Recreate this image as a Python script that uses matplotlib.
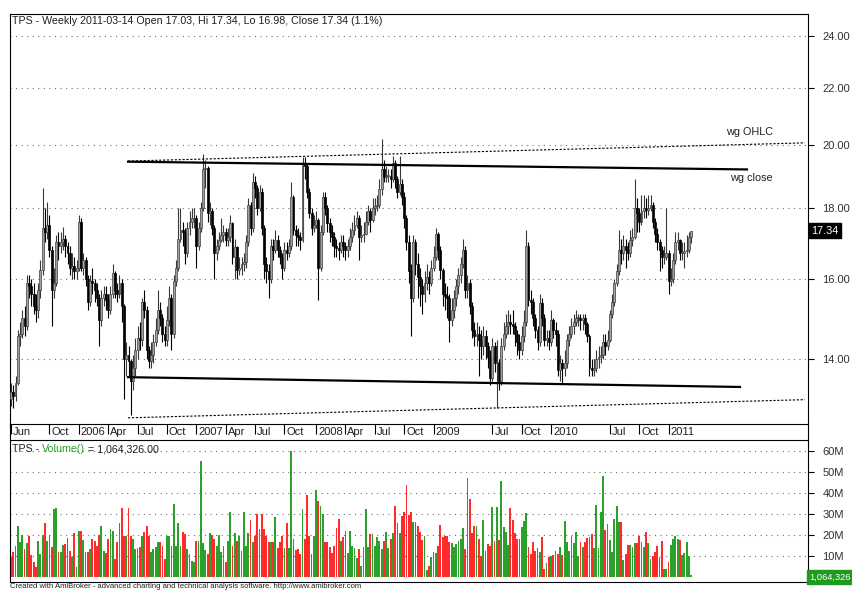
import numpy as np
import pandas as pd
import matplotlib
matplotlib.use('Agg')
import matplotlib.pyplot as plt
from matplotlib.lines import Line2D
from matplotlib.transforms import ScaledTranslation
from matplotlib.ticker import FixedLocator, NullLocator

plt.rcParams['font.family'] = ['Liberation Sans', 'DejaVu Sans']

# weekly bars, TPS, Jun 2005 - Mar 2011
dates = pd.date_range('2005-06-06', '2011-03-14', freq='W-MON')

close = [
    13.25, 13.15, 13.45, 14.55, 14.6, 15.0, 14.8, 15.9, 15.8, 15.6,
    15.3, 15.2, 15.7, 16.25, 17.4, 17.3, 17.5, 16.8, 15.7, 15.9,
    17.0, 16.9, 17.0, 17.1, 16.9, 16.7, 16.3, 16.35, 16.2, 16.3,
    17.6, 16.3, 16.5, 16.0, 15.4, 15.95, 15.9, 15.7, 15.5, 14.95,
    15.5, 15.6, 15.45, 15.2, 15.6, 16.15, 15.7, 15.6, 15.9, 15.3,
    14.0, 14.1, 13.95, 13.5, 13.8, 14.2, 14.5, 14.45, 15.4, 15.2,
    14.2, 13.95, 14.1, 14.4, 14.7, 15.2, 15.0, 14.6, 14.45, 14.95,
    15.5, 14.6, 15.95, 16.3, 17.1, 17.35, 17.3, 16.7, 17.4, 17.6,
    17.7, 17.7, 16.9, 17.4, 18.0, 19.2, 19.25, 17.85, 17.9, 17.4,
    16.7, 16.9, 17.07, 17.2, 17.3, 17.07, 17.15, 17.55, 16.6, 16.87,
    16.25, 16.3, 16.4, 16.45, 17.0, 18.1, 17.4, 18.8, 18.6, 18.0,
    18.5, 17.4, 16.4, 16.2, 16.0, 16.9, 16.8, 17.07, 16.8, 16.6,
    16.3, 16.8, 16.7, 16.9, 18.35, 17.35, 17.2, 17.15, 17.07, 19.4,
    19.3, 18.5, 17.85, 17.4, 17.5, 17.64, 16.3, 17.3, 18.35, 18.0,
    17.55, 17.3, 17.15, 16.9, 16.85, 16.8, 17.0, 16.9, 16.8, 16.9,
    17.15, 17.35, 17.5, 17.7, 17.15, 17.2, 17.25, 17.6, 17.9, 17.64,
    18.0, 18.05, 18.1, 18.57, 19.2, 18.97, 19.0, 19.0, 18.9, 19.4,
    18.9, 18.5, 18.75, 18.35, 17.7, 17.0, 16.2, 15.5, 17.0, 16.4,
    16.05, 15.8, 15.6, 15.9, 16.05, 15.9, 16.3, 16.6, 17.25, 16.8,
    16.25, 15.6, 15.55, 15.5, 14.94, 15.2, 15.5, 15.8, 16.1, 16.4,
    16.8, 15.7, 15.9, 15.3, 14.7, 14.55, 14.6, 14.45, 14.3, 14.55,
    14.3, 14.05, 13.55, 14.3, 13.9, 13.9, 13.5, 14.3, 14.6, 14.8,
    14.9, 14.85, 14.8, 14.6, 14.4, 14.22, 14.55, 14.9, 16.9, 15.44,
    15.4, 15.0, 14.7, 14.4, 15.37, 15.0, 14.45, 14.5, 14.4, 14.94,
    14.7, 14.6, 13.75, 13.9, 13.8, 13.9, 14.45, 14.6, 14.8, 14.9,
    15.0, 15.0, 14.95, 15.0, 14.85, 14.55, 13.8, 13.75, 13.8, 14.0,
    14.05, 14.1, 14.4, 14.3, 14.45, 15.1, 15.4, 15.9, 16.2, 16.8,
    16.7, 16.9, 16.8, 16.7, 17.07, 17.15, 18.0, 17.85, 17.6, 17.9,
    18.0, 17.95, 18.0, 18.1, 17.6, 17.25, 17.0, 16.8, 16.6, 16.6,
    16.7, 15.95, 16.0, 16.5, 17.0, 17.07, 16.7, 16.7, 16.75, 16.8,
    17.15, 17.34,
]

high = [
    13.45, 13.4, 13.6, 14.7, 14.9, 15.2, 15.3, 16.1, 16.1, 16.0,
    15.9, 15.6, 15.9, 16.5, 18.6, 18.0, 18.2, 17.8, 16.9, 16.3,
    17.2, 17.3, 17.3, 17.45, 17.2, 17.0, 16.9, 16.7, 16.6, 16.5,
    17.8, 17.7, 16.7, 16.6, 16.1, 16.1, 16.3, 16.0, 15.9, 15.6,
    15.7, 15.8, 15.8, 15.6, 15.8, 16.4, 16.2, 15.9, 16.1, 16.0,
    15.35, 14.4, 14.3, 14.0, 14.1, 14.5, 14.8, 14.9, 15.5, 15.7,
    15.3, 14.3, 14.4, 14.6, 15.0, 15.7, 15.4, 15.1, 14.8, 15.3,
    15.8, 15.6, 16.1, 16.5, 18.0, 18.0, 17.6, 17.4, 17.6, 17.9,
    18.0, 18.0, 17.8, 17.6, 18.2, 19.7, 19.5, 19.3, 18.2, 18.0,
    17.5, 17.1, 17.3, 17.7, 17.5, 17.4, 17.4, 17.8, 17.6, 17.1,
    16.9, 16.6, 16.6, 16.7, 17.2, 18.3, 18.2, 19.1, 19.0, 18.7,
    18.7, 18.6, 17.5, 16.6, 16.4, 17.1, 17.1, 17.35, 17.2, 16.9,
    16.7, 17.0, 17.0, 17.1, 18.8, 18.4, 17.5, 17.4, 17.3, 19.6,
    19.6, 19.4, 18.6, 18.0, 17.8, 17.9, 17.7, 17.5, 18.5, 18.5,
    18.1, 17.7, 17.5, 17.3, 17.1, 17.0, 17.2, 17.2, 17.0, 17.1,
    17.4, 17.6, 17.8, 17.9, 17.8, 17.5, 17.6, 17.9, 18.1, 18.0,
    18.3, 18.3, 18.4, 18.9, 20.2, 19.5, 19.3, 19.2, 19.2, 19.65,
    19.5, 19.0, 19.65, 18.9, 18.5, 17.8, 17.2, 16.4, 17.2, 17.1,
    16.7, 16.3, 16.0, 16.2, 16.4, 16.2, 16.5, 16.9, 17.4, 17.3,
    16.9, 16.3, 15.9, 15.8, 15.6, 15.5, 15.7, 16.0, 16.3, 16.6,
    17.1, 16.9, 16.1, 16.0, 15.4, 14.9, 14.9, 14.8, 14.7, 14.8,
    14.7, 14.4, 14.2, 14.5, 14.4, 14.45, 14.0, 14.5, 14.9, 15.1,
    15.2, 15.1, 15.2, 14.9, 14.7, 14.6, 14.8, 15.2, 17.35, 17.0,
    15.7, 15.5, 15.1, 14.8, 15.6, 15.5, 15.1, 14.7, 14.7, 15.2,
    15.0, 14.9, 14.7, 14.1, 14.0, 14.2, 14.6, 14.8, 15.0, 15.1,
    15.2, 15.1, 15.1, 15.1, 15.1, 14.9, 14.6, 14.0, 14.0, 14.2,
    14.3, 14.3, 14.6, 14.6, 14.7, 15.2, 15.6, 16.0, 16.4, 17.35,
    17.1, 17.2, 17.1, 17.0, 17.35, 17.4, 18.9, 18.3, 18.0, 18.4,
    18.4, 18.3, 18.4, 18.4, 18.2, 17.7, 17.4, 17.1, 16.9, 16.9,
    18.0, 16.8, 16.3, 16.7, 17.3, 17.3, 17.1, 17.0, 17.0, 17.2,
    17.3, 17.34,
]

low = [
    12.95, 12.9, 13.05, 13.4, 14.3, 14.5, 14.55, 14.7, 15.5, 15.3,
    15.1, 14.9, 15.0, 15.5, 16.1, 17.0, 17.1, 16.6, 14.8, 15.5,
    15.8, 16.5, 16.7, 16.8, 16.6, 16.4, 16.1, 16.0, 16.0, 16.0,
    16.2, 16.2, 16.1, 15.8, 15.2, 15.3, 15.6, 15.4, 15.3, 14.3,
    14.8, 15.3, 15.2, 15.0, 15.1, 15.5, 15.5, 15.4, 15.5, 14.9,
    13.1, 13.6, 13.6, 12.75, 13.3, 13.6, 14.0, 14.2, 14.3, 15.0,
    14.0, 13.8, 13.8, 13.9, 14.3, 14.6, 14.8, 14.4, 14.3, 14.3,
    14.8, 14.2, 14.5, 15.8, 16.2, 17.0, 16.9, 16.4, 16.6, 17.2,
    17.4, 17.4, 16.3, 16.8, 17.3, 17.9, 18.6, 17.6, 17.5, 17.2,
    16.0, 16.5, 16.8, 17.0, 17.0, 16.9, 16.9, 17.0, 16.4, 16.0,
    16.0, 16.1, 16.1, 16.2, 16.3, 16.9, 17.2, 17.3, 18.3, 17.8,
    17.9, 17.2, 16.0, 15.9, 15.5, 15.9, 16.5, 16.7, 16.6, 16.4,
    16.0, 16.2, 16.5, 16.6, 16.8, 17.2, 16.9, 16.9, 16.8, 17.0,
    18.9, 18.3, 17.7, 17.2, 17.3, 17.4, 15.45, 16.2, 17.2, 17.8,
    17.3, 17.0, 16.9, 16.6, 16.6, 16.5, 16.7, 16.6, 16.5, 16.6,
    16.8, 17.0, 17.2, 17.4, 16.5, 17.0, 17.0, 17.2, 17.5, 17.3,
    17.6, 17.8, 17.9, 18.0, 18.4, 18.8, 18.8, 18.8, 18.6, 18.8,
    18.6, 18.3, 18.4, 18.1, 17.4, 16.8, 15.9, 14.55, 15.4, 16.1,
    15.5, 15.3, 15.1, 15.4, 15.7, 15.6, 15.8, 16.2, 16.5, 16.5,
    16.0, 15.3, 15.2, 15.0, 14.4, 14.8, 15.0, 15.3, 15.6, 15.9,
    16.3, 15.5, 15.5, 15.1, 14.5, 14.3, 14.3, 13.6, 14.0, 14.1,
    14.0, 13.8, 13.4, 13.5, 13.7, 12.9, 13.3, 13.4, 14.2, 14.5,
    14.6, 14.6, 14.6, 14.3, 14.1, 14.0, 14.1, 14.4, 14.8, 15.3,
    15.1, 14.8, 14.5, 14.2, 14.3, 14.8, 14.3, 14.3, 14.2, 14.3,
    14.5, 14.3, 13.6, 13.5, 13.45, 13.6, 13.8, 14.3, 14.5, 14.6,
    14.8, 14.8, 14.7, 14.7, 14.6, 14.4, 13.6, 13.6, 13.6, 13.7,
    13.8, 13.9, 14.0, 14.1, 14.2, 14.4, 15.0, 15.3, 15.8, 16.1,
    16.4, 16.5, 16.3, 16.5, 16.6, 16.9, 17.1, 17.3, 17.3, 17.5,
    17.7, 17.7, 17.8, 17.9, 17.4, 17.0, 16.8, 16.2, 16.3, 16.4,
    16.5, 15.6, 15.8, 15.9, 16.4, 16.8, 16.5, 16.5, 16.3, 16.6,
    16.7, 16.98,
]

# weekly volume, millions of shares
volume = [
    9.3, 11.7, 14.6, 24.5, 16.8, 20.2, 13.3, 16.2, 19.4, 10.4,
    7.2, 5.0, 17.1, 11.2, 20.2, 25.6, 17.1, 20.2, 14.4, 32.5,
    32.9, 12.0, 12.0, 15.4, 15.7, 18.6, 12.5, 9.3, 21.0, 4.8,
    21.8, 21.8, 17.5, 12.0, 12.0, 13.3, 18.1, 17.1, 14.6, 20.2,
    24.2, 12.3, 11.4, 17.9, 22.9, 21.8, 8.5, 16.8, 25.8, 32.9,
    19.7, 19.7, 32.9, 19.6, 18.0, 13.5, 14.0, 14.3, 19.6, 21.3,
    24.2, 19.7, 11.7, 13.3, 14.4, 16.5, 16.8, 14.9, 8.5, 19.7,
    19.7, 14.9, 35.0, 14.9, 25.8, 14.9, 21.3, 20.5, 13.3, 10.9,
    7.7, 7.2, 17.0, 17.0, 55.6, 16.0, 13.0, 11.0, 21.0, 20.0,
    18.0, 15.0, 20.0, 12.0, 15.0, 7.0, 17.0, 31.0, 15.0, 21.0,
    17.0, 19.7, 12.5, 31.0, 15.0, 21.0, 27.4, 16.5, 19.7, 30.0,
    23.0, 30.0, 23.0, 19.7, 16.5, 16.5, 16.5, 28.5, 14.0, 16.5,
    19.7, 14.0, 26.0, 14.0, 60.3, 18.0, 13.0, 13.3, 11.2, 32.5,
    18.0, 39.0, 19.7, 11.2, 19.7, 41.3, 36.2, 34.0, 30.0, 16.8,
    16.5, 14.4, 11.4, 14.9, 23.5, 27.7, 17.3, 18.9, 22.1, 11.4,
    21.8, 14.9, 13.8, 9.0, 13.3, 5.3, 14.4, 32.5, 14.4, 20.5,
    20.5, 14.9, 18.9, 17.3, 13.3, 17.0, 21.3, 13.6, 18.1, 20.8,
    34.1, 25.8, 20.8, 29.3, 31.2, 44.1, 29.6, 30.9, 26.4, 26.4,
    24.5, 21.6, 17.6, 19.7, 3.2, 5.3, 9.3, 12.0, 11.4, 15.0,
    24.8, 19.0, 19.7, 19.7, 16.8, 16.2, 14.4, 15.7, 17.3, 18.1,
    23.4, 13.3, 47.4, 37.0, 20.8, 24.5, 24.5, 18.1, 10.1, 27.4,
    12.5, 15.7, 14.9, 33.3, 17.0, 33.3, 17.6, 45.7, 24.0, 21.3,
    15.4, 32.9, 27.4, 20.8, 18.1, 18.1, 23.7, 26.9, 30.6, 14.4,
    10.9, 16.5, 12.5, 13.8, 12.0, 18.9, 4.0, 6.9, 9.3, 10.1,
    10.6, 12.2, 10.9, 14.4, 10.4, 26.6, 16.5, 12.5, 19.7, 16.0,
    21.3, 10.1, 16.8, 14.4, 16.8, 18.4, 19.2, 20.5, 13.6, 34.6,
    13.8, 31.2, 48.2, 22.6, 25.3, 17.8, 11.7, 27.7, 33.8, 26.4,
    26.4, 8.2, 10.9, 15.2, 15.2, 14.4, 16.2, 16.2, 19.7, 16.8,
    14.4, 21.3, 16.2, 8.5, 9.8, 11.7, 14.9, 9.3, 17.0, 4.0,
    3.7, 7.2, 15.2, 18.1, 19.7, 18.1, 17.6, 10.6, 11.4, 16.8,
    9.8, 1.064326,
]

# trend lines (week index, price)
wg_close_top = ([51.8, 325.7], [19.45, 19.2])
wg_close_bot = ([51.8, 322.6], [13.58, 13.36])
wg_ohlc_top = ([51.8, 351.3], [19.47, 20.07])
wg_ohlc_bot = ([51.8, 351.3], [12.69, 13.08])

tick_months = ['2005-06', '2005-10', '2006-01', '2006-04', '2006-07', '2006-10',
               '2007-01', '2007-04', '2007-07', '2007-10', '2008-01', '2008-04',
               '2008-07', '2008-10', '2009-01', '2009-07', '2009-10', '2010-01',
               '2010-07', '2010-10', '2011-01']
tick_labels = ['Jun', 'Oct', '2006', 'Apr', 'Jul', 'Oct', '2007', 'Apr', 'Jul', 'Oct',
               '2008', 'Apr', 'Jul', 'Oct', '2009', 'Jul', 'Oct', '2010', 'Jul', 'Oct', '2011']
price_ticks = [14, 16, 18, 20, 22, 24]
vol_ticks = [10, 20, 30, 40, 50, 60]

c = np.array(close)
o = np.array([13.10] + close[:-1])  # open taken as previous close
h = np.maximum(np.array(high), np.maximum(o, c))
l = np.minimum(np.array(low), np.minimum(o, c))
x = np.arange(len(c))
up = c >= o

W, H = 852, 590
fig = plt.figure(figsize=(W / 100, H / 100), dpi=100)
fig.patch.set_facecolor('white')

def fx(px):
    return px / W

def fy(py):
    return 1 - py / H

ax = fig.add_axes([fx(10), fy(424), fx(808) - fx(10), fy(14) - fy(424)])
ax2 = fig.add_axes([fx(10), fy(582), fx(808) - fx(10), fy(440) - fy(582)])

# --- price panel ---
ax.set_yscale('log')
ax.set_ylim(12.56, 24.88)
ax.set_xlim(-0.45, 352.7)
dotted = (0, (1, 4))
for p in price_ticks:
    ax.axhline(p, color='#707070', lw=0.8, ls=dotted, zorder=0)

ax.vlines(x, l, h, colors=np.where(up, '#383838', '#000000'), lw=0.8, zorder=2)
body = np.abs(c - o)
body = np.where(body < 0.02, 0.02, body)
ax.bar(x, body, bottom=np.minimum(o, c), width=0.85,
       color=np.where(up, '#a0a0a0', '#000000'),
       edgecolor=np.where(up, '#404040', '#000000'), linewidth=0.5, zorder=3)

ax.plot(*wg_close_top, color='black', lw=1.6, zorder=4)
ax.plot(*wg_close_bot, color='black', lw=1.6, zorder=4)
ax.plot(*wg_ohlc_top, color='black', lw=0.8, ls=(0, (2, 1.5)), zorder=4)
ax.plot(*wg_ohlc_bot, color='black', lw=0.8, ls=(0, (2, 1.5)), zorder=4)
ax.text(316.5, 20.45, 'wg OHLC', fontsize=7.8, va='center', ha='left', color='#202020')
ax.text(318, 18.93, 'wg close', fontsize=7.8, va='center', ha='left', color='#202020')

ax.yaxis.set_major_locator(FixedLocator(price_ticks))
ax.yaxis.set_minor_locator(NullLocator())
ax.set_yticklabels(['%.2f' % p for p in price_ticks])
ax.yaxis.tick_right()
ax.tick_params(axis='y', length=4, pad=6.5, labelsize=8, labelcolor='#303030')

pos = [int(np.searchsorted(dates, pd.Timestamp(m + '-01'))) for m in tick_months]
ax.set_xticks(pos)
ax.set_xticklabels(tick_labels, ha='left')
ax.tick_params(axis='x', direction='out', length=7, pad=-5, labelsize=8, labelcolor='#202020')
shift = ScaledTranslation(2 / 100, 0, fig.dpi_scale_trans)
for lab in ax.get_xticklabels():
    lab.set_transform(lab.get_transform() + shift)
    lab.set_verticalalignment('top')
for s in ax.spines.values():
    s.set_linewidth(0.8)

ax.annotate('%.2f' % close[-1], xy=(1, close[-1]), xycoords=('axes fraction', 'data'),
            xytext=(2.5, 0), textcoords='offset points', va='center', ha='left',
            fontsize=7.8, color='white',
            bbox=dict(boxstyle='square,pad=0.2', fc='black', ec='black'))

fig.text(fx(12), fy(21), 'TPS - Weekly 2011-03-14 Open 17.03, Hi 17.34, Lo 16.98, Close 17.34 (1.1%)',
         fontsize=7.7, va='center', ha='left', color='#202020')

# --- volume panel ---
vol = np.array(volume)
ax2.set_xlim(ax.get_xlim())
ax2.set_ylim(-2.4, 65.4)
for v in vol_ticks:
    ax2.axhline(v, color='#707070', lw=0.8, ls=dotted, zorder=0)
ax2.bar(x, vol, width=0.8, color=np.where(up, '#2ba02b', '#ff2a2a'), linewidth=0,
        antialiased=False, zorder=2)
ax2.set_xticks([])
ax2.yaxis.set_major_locator(FixedLocator(vol_ticks))
ax2.set_yticklabels(['%dM' % v for v in vol_ticks])
ax2.yaxis.tick_right()
ax2.tick_params(axis='y', length=4, pad=6.5, labelsize=8, labelcolor='#303030')
for s in ax2.spines.values():
    s.set_linewidth(0.8)

ax2.annotate('{:,.0f}'.format(volume[-1] * 1e6), xy=(1, 0), xycoords=('axes fraction', 'data'),
             xytext=(1.2, 0), textcoords='offset points', va='center', ha='left',
             fontsize=6.7, color='white',
             bbox=dict(boxstyle='square,pad=0.3', fc='#1e9a1e', ec='#1e9a1e'))

t1 = fig.text(fx(12), fy(449), 'TPS - ', fontsize=7.7, va='center', ha='left', color='#202020')
t2 = ax2.annotate('Volume()', xy=(1, 0), xycoords=t1, va='bottom', ha='left',
                  fontsize=7.7, color='#2ba02b')
ax2.annotate(' = 1,064,326.00', xy=(1, 0), xycoords=t2, va='bottom', ha='left',
             fontsize=7.7, color='#202020')

# left / right borders between the panels
for px in (10, 808):
    fig.add_artist(Line2D([fx(px), fx(px)], [fy(424), fy(440)], color='black', lw=0.8,
                          transform=fig.transFigure))

fig.text(fx(10), fy(587), 'Created with AmiBroker - advanced charting and technical analysis software. http://www.amibroker.com',
         fontsize=5.5, va='center', ha='left', color='#202020')

fig.savefig('out.png', dpi=100)
